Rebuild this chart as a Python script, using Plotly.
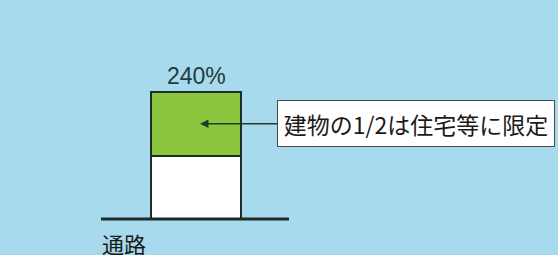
import plotly.graph_objects as go

# Data
categories = ["敷地"]
housing_share = [120]      # lower half (white)
limited_share = [120]      # upper half (green)
total_label = "240%"
callout_text = "建物の1/2は住宅等に限定"
road_label = "通路"

BG = "#a8daee"
GREEN = "#8cc63f"
EDGE = "#1f2b29"

bar_x = [196]
total = housing_share[0] + limited_share[0]

fig = go.Figure()
fig.add_trace(go.Bar(x=bar_x, y=housing_share, width=90, marker=dict(color="white", line=dict(color=EDGE, width=2)),
                     hoverinfo="skip", showlegend=False))
fig.add_trace(go.Bar(x=bar_x, y=limited_share, width=90, marker=dict(color=GREEN, line=dict(color=EDGE, width=2)),
                     hoverinfo="skip", showlegend=False))

s = 127 / 240.0
fig.update_layout(
    barmode="stack",
    width=558, height=255,
    margin=dict(l=0, r=0, t=0, b=0),
    paper_bgcolor=BG, plot_bgcolor=BG,
    xaxis=dict(range=[0, 558], visible=False, fixedrange=True),
    yaxis=dict(range=[-36 / s, (255 - 36) / s], visible=False, fixedrange=True),
)

# ground line
fig.add_shape(type="line", xref="x", yref="y", x0=101, x1=289, y0=0, y1=0,
              line=dict(color=EDGE, width=3), layer="above")

# total label
fig.add_annotation(x=bar_x[0], y=total, text=total_label, showarrow=False, yanchor="bottom", yshift=1,
                   font=dict(family="Liberation Sans, Arial", size=23, color="#1f3b3d"))

# callout
fig.add_annotation(x=bar_x[0] + 4, y=housing_share[0] + limited_share[0] / 2, text=callout_text,
                   showarrow=True, ax=216, ay=0, axref="pixel", ayref="pixel",
                   arrowhead=2, arrowsize=1.3, arrowwidth=1.3, arrowcolor="#1f3b2a",
                   bgcolor="white", bordercolor="#4a4a4a", borderwidth=1, borderpad=0,
                   width=276, height=45,
                   font=dict(family="Noto Sans CJK JP", size=23, color="#1a1a1a"))

# road label
fig.add_annotation(xref="paper", yref="paper", x=100 / 558, y=1 - 243 / 255, text=road_label, showarrow=False,
                   xanchor="left", yanchor="middle",
                   font=dict(family="Noto Sans CJK JP", size=22, color="#1a1a1a"))

fig.write_html("out.html", config={"displayModeBar": False})

with open("out.html", "r", encoding="utf-8") as f:
    html = f.read()
html = html.replace("<head>", "<head><style>html,body{margin:0;padding:0;overflow:hidden;background:%s;}</style>" % BG, 1)
with open("out.html", "w", encoding="utf-8") as f:
    f.write(html)
